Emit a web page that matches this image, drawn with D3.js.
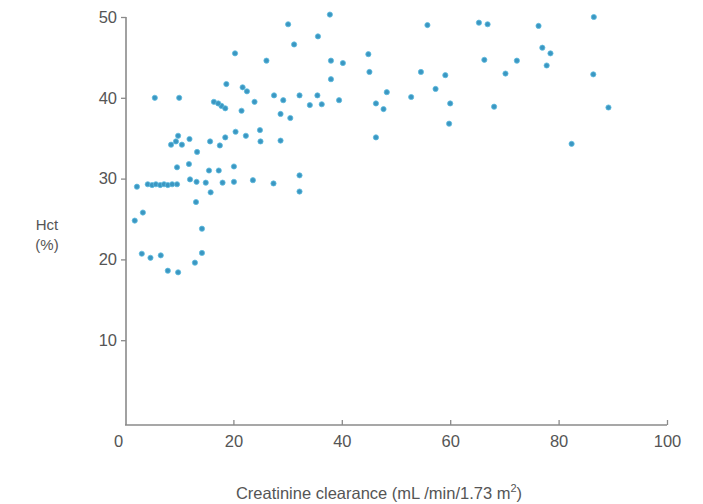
<!DOCTYPE html>
<html><head><meta charset="utf-8">
<script src="https://cdn.jsdelivr.net/npm/d3@7"></script>
<style>
body{margin:0;background:#fff;}
svg{display:block;}
text{font-family:"Liberation Sans",Arial,sans-serif;fill:#555;}
</style></head>
<body><svg id="c" width="703" height="504"></svg>
<script>
// Creatinine clearance (mL/min/1.73 m²)
const clearance = [
30.1,31.2,20.3,26.1,18.7,21.7,22.5,27.5,29.2,32.2,5.5,10.0,16.4,17.8,18.5,17.2,21.5,23.9,28.7,30.5,
9.8,11.9,8.5,10.5,9.4,15.7,18.5,17.5,20.4,22.3,24.9,25.0,28.7,13.3,9.6,11.8,15.5,17.3,20.1,32.2,
2.2,4.2,5.0,5.7,6.5,7.2,7.9,8.7,9.6,12.0,13.2,14.9,18.0,20.1,23.6,27.4,32.2,15.8,13.1,3.3,
1.8,14.2,3.1,4.7,6.6,14.2,12.9,7.9,9.8,
37.8,55.8,65.3,66.9,35.6,44.9,38.0,40.2,45.1,54.6,59.1,66.3,38.0,48.3,57.3,35.5,34.1,36.3,39.5,52.8,
46.3,47.7,60.0,59.8,46.3,76.3,86.5,77.0,78.5,72.3,77.8,70.2,86.4,68.1,89.2,82.4
];
// Hct (%)
const hct = [
49.1,46.6,45.5,44.6,41.7,41.3,40.8,40.3,39.7,40.3,40.0,40.0,39.5,39.0,38.7,39.3,38.4,39.5,38.0,37.5,
35.3,34.9,34.2,34.2,34.6,34.6,35.1,34.1,35.8,35.3,36.0,34.6,34.7,33.3,31.4,31.8,31.0,31.0,31.5,30.4,
29.0,29.3,29.2,29.3,29.2,29.3,29.2,29.3,29.3,29.9,29.6,29.5,29.5,29.6,29.8,29.4,28.4,28.3,27.1,25.8,
24.8,23.8,20.7,20.2,20.5,20.8,19.6,18.6,18.4,
50.3,49.0,49.3,49.1,47.6,45.4,44.6,44.3,43.2,43.2,42.8,44.7,42.3,40.7,41.1,40.3,39.1,39.2,39.7,40.1,
39.3,38.6,39.3,36.8,35.1,48.9,50.0,46.2,45.5,44.6,44.0,43.0,42.9,38.9,38.8,34.3
];
const xTicks = [0,20,40,60,80,100];
const yTicks = [10,20,30,40,50];

const svg = d3.select("#c");
const x = d3.scaleLinear().domain([0,100]).range([125,667]);
const y = d3.scaleLinear().domain([0,50]).range([421,17]);
const axisColor = "#8a8a8a";
const ff = "'Liberation Sans',Arial,sans-serif";

// y axis
const gy = svg.append("g").attr("transform","translate(126,0)")
  .call(d3.axisLeft(y).tickValues(yTicks).tickSize(5).tickPadding(4));
gy.select(".domain").remove();
gy.append("line").attr("x1",0).attr("x2",0).attr("y1",y(50)).attr("y2",425)
  .attr("stroke",axisColor).attr("stroke-width",1.6);
gy.selectAll(".tick line").attr("stroke",axisColor).attr("stroke-width",1.3);
gy.selectAll(".tick text").attr("fill","#555").style("font-size","16.5px")
  .style("font-family",ff);

// x axis
const gx = svg.append("g").attr("transform","translate(0,425)")
  .call(d3.axisBottom(x).tickValues(xTicks).tickSize(-5).tickPadding(10));
gx.select(".domain").remove();
gx.append("line").attr("x1",125).attr("x2",667).attr("y1",0).attr("y2",0)
  .attr("stroke",axisColor).attr("stroke-width",1.6);
gx.selectAll(".tick line").attr("stroke",axisColor).attr("stroke-width",1.3)
  .filter(d=>d===0).remove();
gx.selectAll(".tick text").attr("fill","#555").style("font-size","16.5px")
  .style("font-family",ff)
  .attr("dx",d=>d===0?-7:0);

// axis titles
svg.append("text").attr("x",47).attr("y",230).attr("text-anchor","middle")
  .style("font-size","15px").text("Hct");
svg.append("text").attr("x",47).attr("y",250).attr("text-anchor","middle")
  .style("font-size","15px").text("(%)");
const t = svg.append("text").attr("x",379).attr("y",499).attr("text-anchor","middle")
  .style("font-size","16.5px");
t.append("tspan").text("Creatinine clearance (mL /min/1.73 m");
t.append("tspan").attr("dy",-7).style("font-size","11px").text("2");
t.append("tspan").attr("dy",7).text(")");

// points
svg.append("g").selectAll("circle").data(clearance.map((c,i)=>[c,hct[i]]))
  .join("circle")
  .attr("cx",d=>x(d[0])).attr("cy",d=>y(d[1])).attr("r",2.6)
  .attr("fill","#3b97c2").attr("stroke","#5fbde0").attr("stroke-width",0.8);
</script></body></html>
